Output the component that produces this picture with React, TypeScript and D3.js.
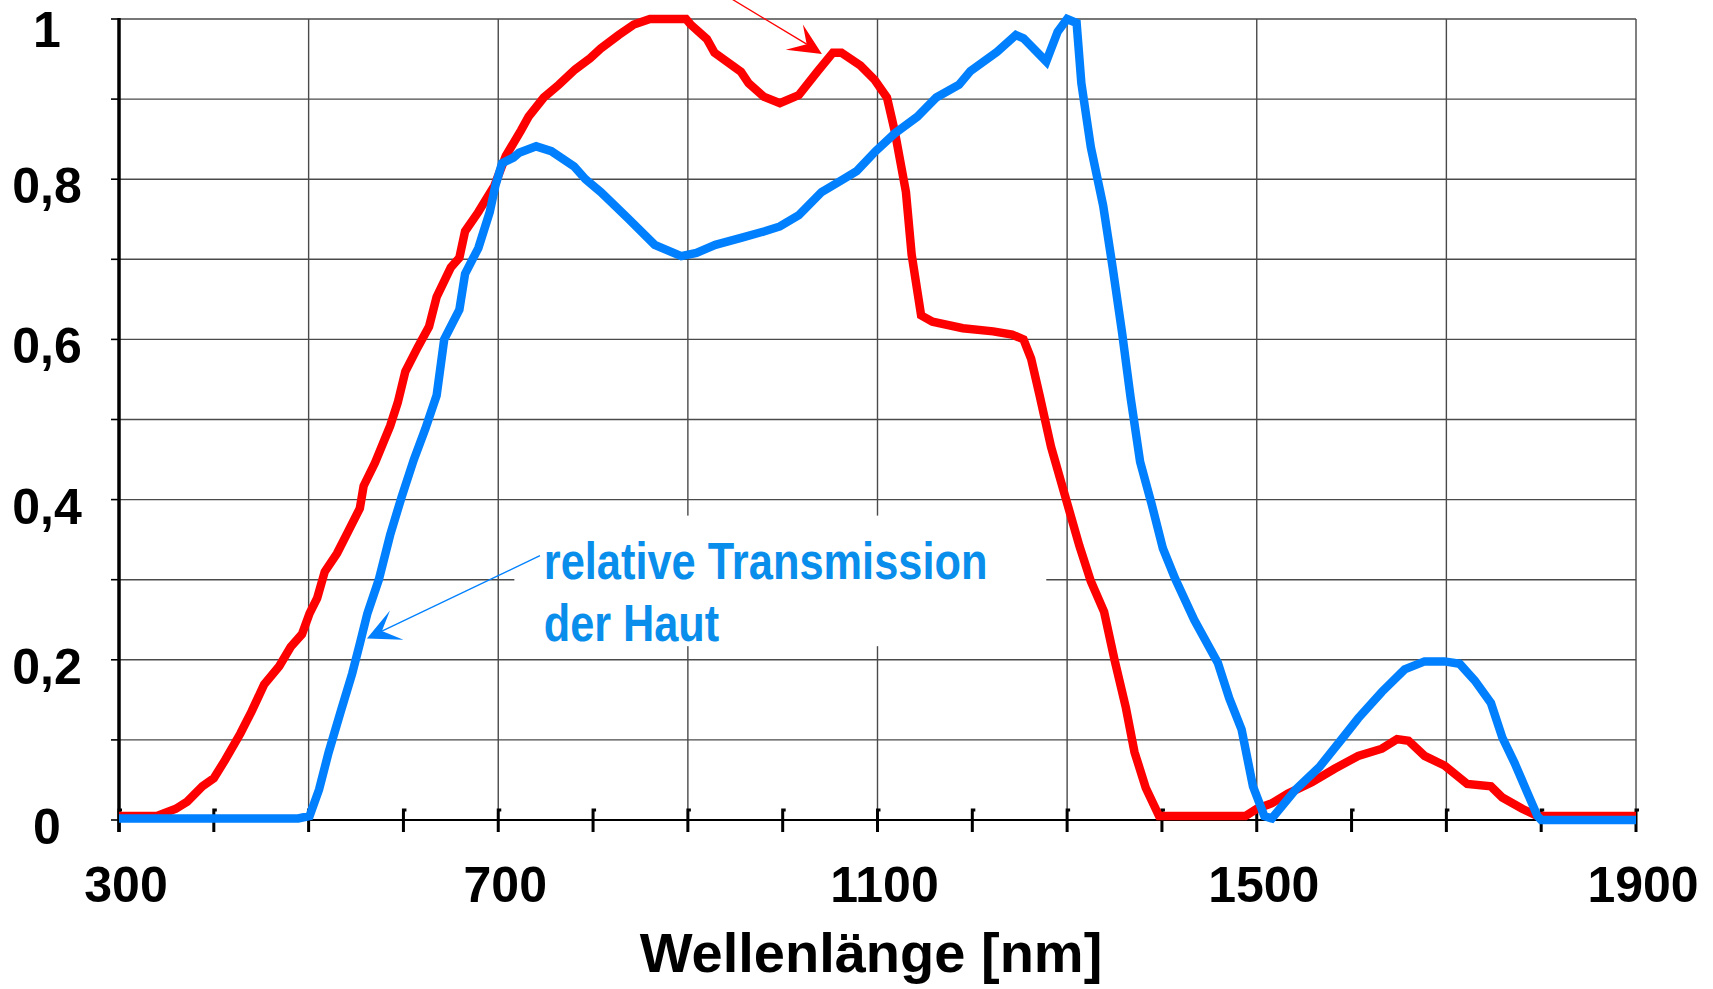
import * as d3 from 'd3';
import { useEffect } from 'react';

// red curve (cut-off label above the plot)
const redNm = [300, 340, 360, 372, 388, 400, 412, 428, 440, 453, 469, 481, 493, 501, 509, 517, 530, 542, 554, 558, 570, 578, 586, 594, 602, 615, 627, 635, 650, 659, 665, 679, 696, 708, 724, 732, 748, 764, 781, 797, 808, 827, 843, 860, 898, 903, 920, 928, 956, 964, 980, 997, 1017, 1037, 1053, 1062, 1082, 1097, 1110, 1118, 1130, 1136, 1146, 1158, 1190, 1222, 1242, 1254, 1262, 1271, 1283, 1297, 1313, 1325, 1339, 1350, 1362, 1371, 1383, 1397, 1488, 1500, 1516, 1533, 1558, 1582, 1607, 1632, 1648, 1660, 1677, 1698, 1722, 1747, 1759, 1780, 1796, 1900];
const redValue = [0.005, 0.005, 0.014, 0.023, 0.042, 0.052, 0.075, 0.108, 0.136, 0.169, 0.192, 0.216, 0.232, 0.258, 0.277, 0.31, 0.333, 0.361, 0.389, 0.417, 0.446, 0.469, 0.492, 0.521, 0.56, 0.59, 0.616, 0.653, 0.69, 0.702, 0.735, 0.759, 0.792, 0.829, 0.861, 0.878, 0.902, 0.918, 0.937, 0.951, 0.963, 0.98, 0.993, 1.0, 1.0, 0.993, 0.975, 0.958, 0.934, 0.92, 0.903, 0.895, 0.905, 0.935, 0.958, 0.958, 0.942, 0.924, 0.902, 0.861, 0.784, 0.706, 0.63, 0.622, 0.614, 0.61, 0.606, 0.6, 0.576, 0.53, 0.466, 0.408, 0.342, 0.298, 0.26, 0.2, 0.14, 0.085, 0.04, 0.005, 0.005, 0.014, 0.021, 0.033, 0.047, 0.064, 0.08, 0.089, 0.101, 0.099, 0.08, 0.068, 0.045, 0.042, 0.028, 0.014, 0.005, 0.005];

// blue curve: relative Transmission der Haut
const blueNm = [300, 489, 501, 511, 521, 534, 546, 554, 562, 574, 586, 598, 611, 623, 635, 643, 659, 665, 679, 691, 697, 704, 716, 722, 740, 756, 780, 792, 808, 837, 865, 893, 909, 929, 957, 981, 997, 1017, 1041, 1061, 1078, 1098, 1118, 1142, 1162, 1186, 1198, 1226, 1246, 1254, 1278, 1290, 1300, 1310, 1315, 1325, 1338, 1348, 1358, 1367, 1377, 1389, 1401, 1414, 1434, 1459, 1471, 1484, 1496, 1508, 1516, 1541, 1566, 1591, 1607, 1632, 1656, 1677, 1698, 1714, 1730, 1747, 1759, 1772, 1784, 1796, 1800, 1900];
const blueValue = [0.002, 0.002, 0.005, 0.038, 0.084, 0.136, 0.183, 0.22, 0.258, 0.3, 0.356, 0.403, 0.45, 0.488, 0.53, 0.6, 0.637, 0.682, 0.714, 0.759, 0.792, 0.82, 0.827, 0.833, 0.841, 0.835, 0.816, 0.8, 0.784, 0.751, 0.718, 0.704, 0.708, 0.718, 0.727, 0.735, 0.741, 0.755, 0.784, 0.798, 0.81, 0.835, 0.857, 0.878, 0.902, 0.918, 0.935, 0.959, 0.98, 0.976, 0.947, 0.984, 1.0, 0.995, 0.92, 0.84, 0.767, 0.69, 0.608, 0.527, 0.447, 0.395, 0.339, 0.301, 0.25, 0.196, 0.152, 0.113, 0.042, 0.005, 0.002, 0.038, 0.066, 0.103, 0.127, 0.16, 0.188, 0.198, 0.198, 0.195, 0.174, 0.146, 0.103, 0.071, 0.038, 0.005, 0, 0];

const xLabels = [300, 700, 1100, 1500, 1900];
const xTicks = d3.range(300, 1901, 100);
const xGrid = d3.range(500, 1901, 200);
const yGrid = d3.range(1, 11).map(i => i / 10);
const yLabels = [0, 0.2, 0.4, 0.6, 0.8, 1];

const W = 1713;
const H = 989;
const RED = '#ff0000';
const BLUE = '#0080ff';
const TEXT_BLUE = '#0a8eec';

const App = () => {
  useEffect(() => {
    document.body.style.margin = '0';
  }, []);

  const x = d3.scaleLinear().domain([300, 1900]).range([119, 1636]);
  const y = d3.scaleLinear().domain([0, 1]).range([820, 19]);

  const line = d3.line<[number, number]>().x(d => x(d[0])).y(d => y(d[1]));
  const redPts = redNm.map((n, i) => [n, redValue[i]] as [number, number]);
  const bluePts = blueNm.map((n, i) => [n, blueValue[i]] as [number, number]);

  const pt = (n: number, v: number) => `${x(n)},${y(v)}`;
  const y0 = y(0);

  return (
    <svg width={W} height={H} style={{ display: 'block', background: '#fff' }}>
      {/* grid */}
      <g stroke="#4a4a4a" strokeWidth={1.4}>
        {yGrid.map(v => (
          <line key={'h' + v} x1={x(300)} x2={x(1900)} y1={y(v)} y2={y(v)} />
        ))}
        {xGrid.map(n => (
          <line key={'v' + n} x1={x(n)} x2={x(n)} y1={y(1)} y2={y0} />
        ))}
      </g>

      {/* white box behind the annotation text */}
      <rect x={x(717)} y={y(0.38)} width={x(1278) - x(717)} height={y(0.217) - y(0.38)} fill="#fff" />

      {/* axes */}
      <line x1={x(300)} x2={x(1900)} y1={y0} y2={y0} stroke="#000" strokeWidth={2} />
      <line x1={x(300)} x2={x(300)} y1={y(1) - 1} y2={y0 + 12} stroke="#000" strokeWidth={3.5} />
      <g stroke="#000" strokeWidth={1.6}>
        {d3.range(0, 11).map(i => (
          <line key={'yt' + i} x1={x(300) - 8} x2={x(300)} y1={y(i / 10)} y2={y(i / 10)} />
        ))}
      </g>
      <g stroke="#000" strokeWidth={3} fill="none">
        {xTicks.map(n => (
          <path key={'xt' + n} d={`M${x(n) + 3},${y0 - 10} H${x(n)} V${y0 + 12}`} />
        ))}
      </g>

      {/* curves */}
      <path d={line(redPts) ?? ''} fill="none" stroke={RED} strokeWidth={8.5} strokeLinejoin="miter" strokeMiterlimit={3} />
      <path d={line(bluePts) ?? ''} fill="none" stroke={BLUE} strokeWidth={8.5} strokeLinejoin="miter" strokeMiterlimit={3} />

      {/* tick labels */}
      <g fontFamily="'Liberation Sans', Arial, sans-serif" fontWeight="bold" fontSize={50} fill="#000">
        {yLabels.map(v => (
          <text key={'yl' + v} x={47} y={v === 1 ? 47 : y(v) + 24} textAnchor="middle">
            {v === 0 || v === 1 ? String(v) : String(v).replace('.', ',')}
          </text>
        ))}
        {xLabels.map(n => (
          <text key={'xl' + n} x={x(n) + 7} y={902} textAnchor="middle">{n}</text>
        ))}
      </g>
      <text x={871} y={972} textAnchor="middle" fontFamily="'Liberation Sans', Arial, sans-serif" fontWeight="bold" fontSize={56} fill="#000">
        Wellenlänge [nm]
      </text>

      {/* annotation: blue */}
      <line x1={x(744)} y1={y(0.33)} x2={x(577.3)} y2={y(0.2358)} stroke={BLUE} strokeWidth={1.3} />
      <polygon
        points={[pt(561.5, 0.2265), pt(585.8, 0.2614), pt(577.3, 0.2358), pt(600, 0.225)].join(' ')}
        fill={BLUE}
      />
      <g fontFamily="'Liberation Sans Narrow', 'Arial Narrow', 'Liberation Sans', sans-serif" fontWeight="bold" fontSize={52} fill={TEXT_BLUE}>
        <text x={x(748)} y={y(0.304) + 3} textLength={x(1216) - x(748)} lengthAdjust="spacingAndGlyphs">relative Transmission</text>
        <text x={x(748)} y={y(0.227) + 3} textLength={x(933) - x(748)} lengthAdjust="spacingAndGlyphs">der Haut</text>
      </g>

      {/* annotation: red (label above the frame) */}
      <line x1={x(900)} y1={y(1.058)} x2={x(1025.3)} y2={y(0.9686)} stroke={RED} strokeWidth={1.3} />
      <polygon
        points={[pt(1041.4, 0.9563), pt(1021.3, 0.993), pt(1025.3, 0.9686), pt(1003.2, 0.9616)].join(' ')}
        fill={RED}
      />
    </svg>
  );
};

export default App;
